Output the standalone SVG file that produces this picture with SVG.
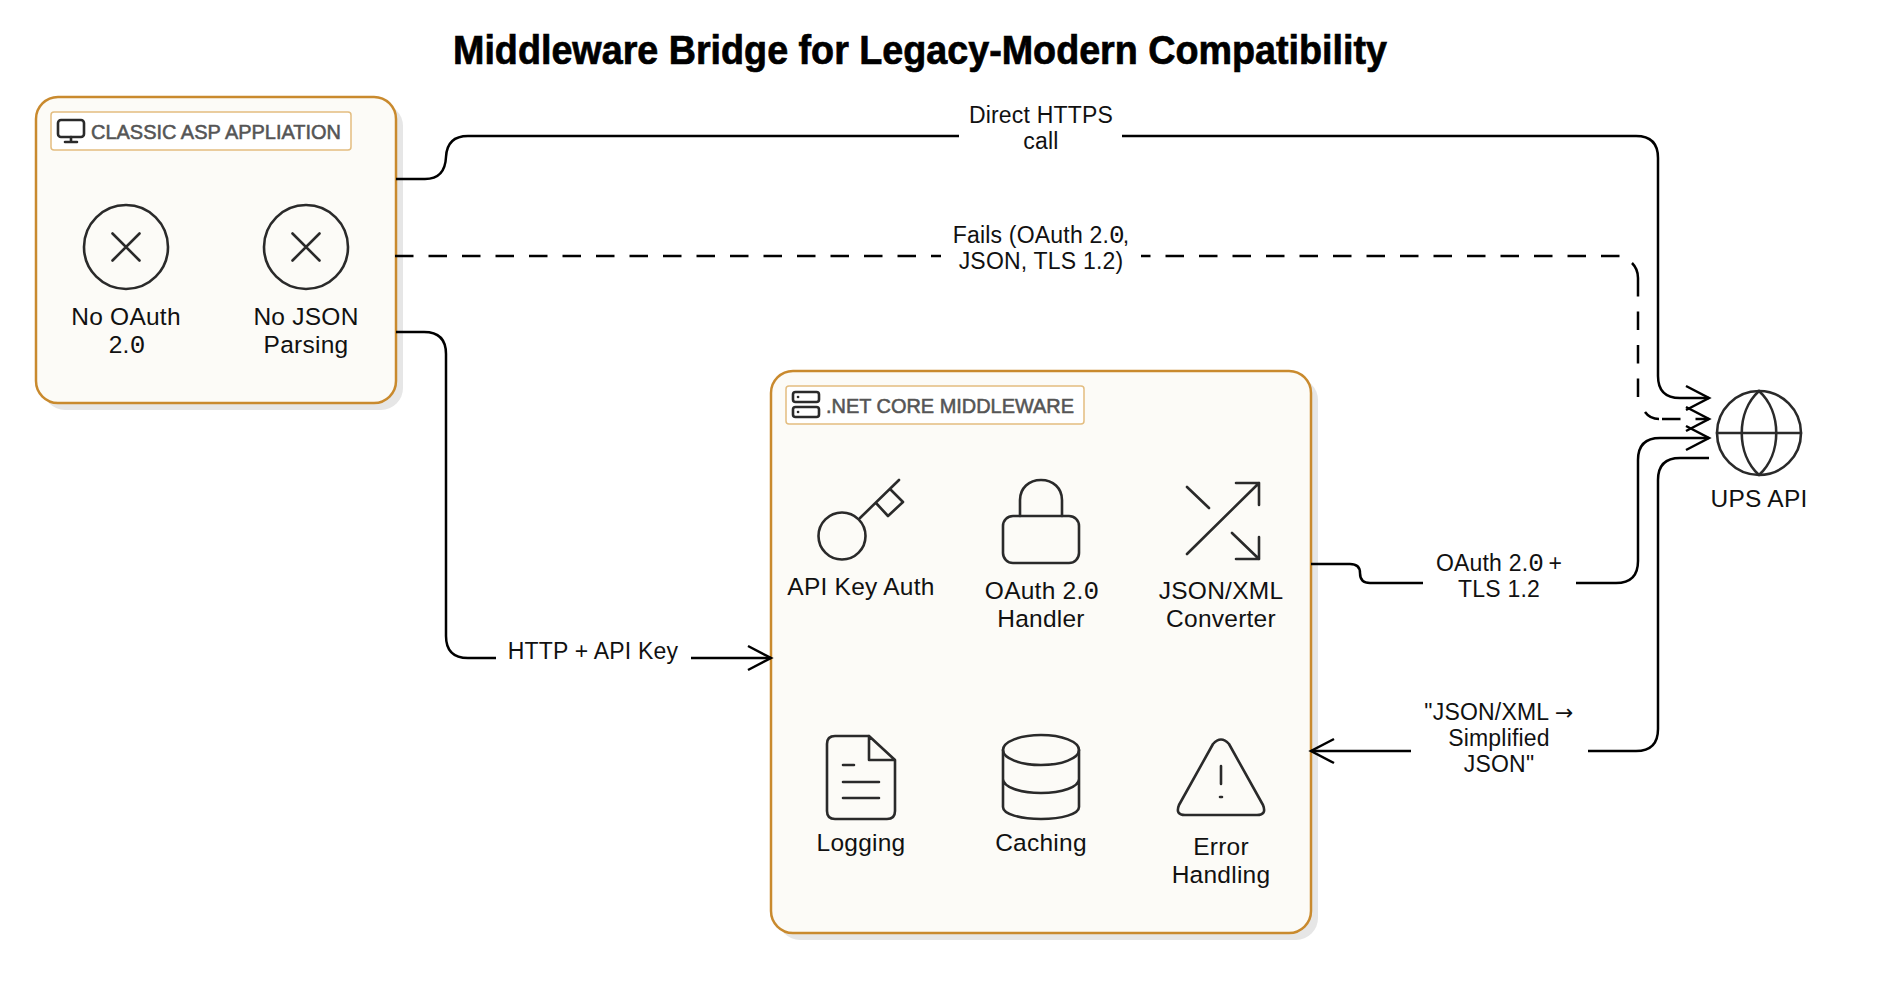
<svg xmlns="http://www.w3.org/2000/svg" width="1877" height="1007" viewBox="0 0 1877 1007">
<style>
text{font-family:"Liberation Sans",Arial,sans-serif;fill:#111;text-anchor:middle}
.n{font-size:24.5px;letter-spacing:.25px}
.e{font-size:23px;letter-spacing:.2px}
.z{font-family:"Liberation Mono",monospace;font-size:26px;letter-spacing:-2px}
.ar{font-family:"DejaVu Sans",sans-serif;font-size:22px}
.t{font-size:40px;font-weight:700;fill:#000;stroke:#000;stroke-width:.7}
.g{font-size:20px;fill:#555;stroke:#555;stroke-width:.55;text-anchor:start}
.box{fill:#fcfbf7;stroke:#c98a2e;stroke-width:2.5}
.sh{fill:#e6e6e6}
.lb{fill:#fff;stroke:#e3bd80;stroke-width:1.5}
.i{fill:none;stroke:#2a2a2a;stroke-width:2.6;stroke-linecap:round;stroke-linejoin:round}
.c{fill:none;stroke:#000;stroke-width:2.5}
.d{stroke-dasharray:18.5 15}
.bg{fill:#fff;stroke:none}
</style>
<defs>
<marker id="a" markerUnits="userSpaceOnUse" markerWidth="30" markerHeight="30" refX="26" refY="15" orient="auto" overflow="visible"><path d="M3 3 L26 15 L3 27" fill="none" stroke="#000" stroke-width="2.5"/></marker>
</defs>
<rect width="1877" height="1007" fill="#fff"/>
<text class="t" x="920" y="64" textLength="934" lengthAdjust="spacingAndGlyphs">Middleware Bridge for Legacy-Modern Compatibility</text>

<g id="classic-asp">
<rect class="sh" x="43" y="104" width="360" height="306" rx="22"/>
<rect class="box" x="36" y="97" width="360" height="306" rx="22"/>
<rect class="lb" x="51" y="112" width="300" height="38" rx="3"/>
<g class="i"><rect x="58" y="120" width="26" height="17" rx="3"/><path d="M71 137V142M65 142H77"/></g>
<text class="g" x="91" y="139" textLength="250" lengthAdjust="spacingAndGlyphs">CLASSIC ASP APPLIATION</text>
</g>
<g id="no-oauth">
<circle class="i" cx="126" cy="247" r="42"/><path class="i" d="M112.500 233.500L139.500 260.500M139.500 233.500L112.500 260.500"/>
<text class="n" x="126" y="325">No OAuth</text><text class="n" x="126" y="353">2.<tspan class="z">0</tspan></text>
</g>
<g id="no-json">
<circle class="i" cx="306" cy="247" r="42"/><path class="i" d="M292.500 233.500L319.500 260.500M319.500 233.500L292.500 260.500"/>
<text class="n" x="306" y="325">No JSON</text><text class="n" x="306" y="353">Parsing</text>
</g>

<g id="middleware">
<rect class="sh" x="778" y="378" width="540" height="562" rx="22"/>
<rect class="box" x="771" y="371" width="540" height="562" rx="22"/>
<rect class="lb" x="786" y="386" width="298" height="38" rx="3"/>
<g class="i"><rect x="793" y="392" width="26" height="10" rx="2.500"/><rect x="793" y="407" width="26" height="10" rx="2.500"/><path d="M798 397h.1M798 412h.1"/></g>
<text class="g" x="826" y="413" textLength="248" lengthAdjust="spacingAndGlyphs">.NET CORE MIDDLEWARE</text>
</g>
<g id="api-key">
<circle class="i" cx="842" cy="536" r="23.500"/><path class="i" d="M860 518L899 480M876 503L888 516L903 502L890 489"/>
<text class="n" x="861" y="595">API Key Auth</text>
</g>
<g id="oauth-handler">
<rect class="i" x="1003" y="516" width="76" height="47" rx="10"/><path class="i" d="M1020 516V500C1020 488 1029 480 1041 480C1053 480 1062 488 1062 500V516"/>
<text class="n" x="1041" y="599">OAuth 2.<tspan class="z">0</tspan></text><text class="n" x="1041" y="627">Handler</text>
</g>
<g id="converter">
<path class="i" d="M1187 554L1259 483M1236 483H1259V505M1187 487L1209 508M1232 533L1259 559M1259 537V559H1236"/>
<text class="n" x="1221" y="599">JSON/XML</text><text class="n" x="1221" y="627">Converter</text>
</g>
<g id="logging">
<path class="i" d="M869 736H835Q827 736 827 744V811Q827 819 835 819H887Q895 819 895 811V760L869 736V760H895M843 765H854M843 782H879M843 798H879"/>
<text class="n" x="861" y="851">Logging</text>
</g>
<g id="caching">
<ellipse class="i" cx="1041" cy="750" rx="38" ry="15"/><path class="i" d="M1003 750V807C1003 814 1020 819 1041 819C1062 819 1079 814 1079 807V750M1003 779C1003 787 1020 793 1041 793C1062 793 1079 787 1079 779"/>
<text class="n" x="1041" y="851">Caching</text>
</g>
<g id="error-handling">
<path class="i" d="M1213 744Q1221 735 1229 744L1263 805Q1267 815 1257 815H1185Q1175 815 1179 805ZM1221 766V784M1220 797H1222"/>
<text class="n" x="1221" y="855">Error</text><text class="n" x="1221" y="883">Handling</text>
</g>
<g id="ups-api">
<circle class="i" cx="1759" cy="433" r="42"/><path class="i" d="M1717 433H1801M1759 391C1736 412 1736 454 1759 475C1782 454 1782 412 1759 391"/>
<text class="n" x="1759" y="507">UPS API</text>
</g>

<g id="connectors">
<path class="c" marker-end="url(#a)" d="M396 179H425Q445 179 446 157Q447 136 468 136H1636Q1658 136 1658 158V376Q1658 398 1680 398H1709"/>
<path class="c d" marker-end="url(#a)" d="M395 256H1619.500M1632 263Q1638 269 1638 278M1638 278V397M1645 412Q1650 419 1659 419M1662 419H1709"/>
<path class="c" marker-end="url(#a)" d="M1311 564H1350Q1360 564 1360 573Q1360 583 1370 583H1616Q1638 583 1638 561V460Q1638 438 1660 438H1709"/>
<path class="c" marker-end="url(#a)" d="M1709 458H1680Q1658 458 1658 480V729Q1658 751 1636 751H1311"/>
<path class="c" marker-end="url(#a)" d="M396 332H424Q446 332 446 354V636Q446 658 468 658H771"/>
<rect class="bg" x="959" y="100" width="163" height="56"/>
<rect class="bg" x="941" y="220" width="200" height="56"/>
<rect class="bg" x="1423" y="548" width="153" height="56"/>
<rect class="bg" x="1411" y="696" width="177" height="82"/>
<rect class="bg" x="496" y="638" width="195" height="30"/>
<text class="e" x="1041" y="123">Direct HTTPS</text><text class="e" x="1041" y="149">call</text>
<text class="e" x="1041" y="243">Fails (OAuth 2.<tspan class="z">0</tspan>,</text><text class="e" x="1041" y="269">JSON, TLS 1.2)</text>
<text class="e" x="1499" y="571">OAuth 2.<tspan class="z">0</tspan> +</text><text class="e" x="1499" y="597">TLS 1.2</text>
<text class="e" x="1499" y="720">"JSON/XML <tspan class="ar">→</tspan></text><text class="e" x="1499" y="746">Simplified</text><text class="e" x="1499" y="772">JSON"</text>
<text class="e" x="593" y="659">HTTP + API Key</text>
</g>
</svg>
